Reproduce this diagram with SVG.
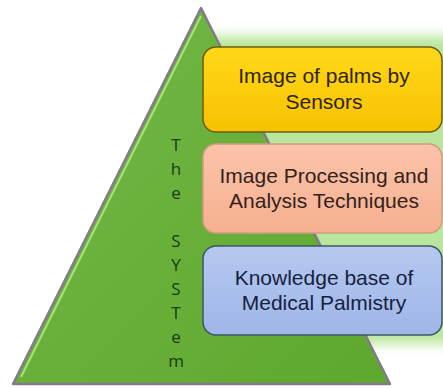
<svg xmlns="http://www.w3.org/2000/svg" width="443" height="389" viewBox="0 0 443 389">
<defs>
<style>
.lbl{font-family:"Liberation Sans",Arial,sans-serif;font-size:21px;text-anchor:middle}
.vt{font-family:"Open Sans","Liberation Sans",sans-serif;font-size:17px;text-anchor:middle;fill:#173d0e}
</style>
<filter id="glow" x="-20%" y="-20%" width="140%" height="140%"><feGaussianBlur stdDeviation="6"/></filter>
<linearGradient id="gy" x1="0" y1="0" x2="0" y2="1"><stop offset="0" stop-color="#ffd81a"/><stop offset="1" stop-color="#f7c200"/></linearGradient>
<linearGradient id="gs" x1="0" y1="0" x2="0" y2="1"><stop offset="0" stop-color="#fbc3aa"/><stop offset="1" stop-color="#f6b090"/></linearGradient>
<linearGradient id="gb" x1="0" y1="0" x2="0" y2="1"><stop offset="0" stop-color="#b5c8f0"/><stop offset="1" stop-color="#9fb6e8"/></linearGradient>
<linearGradient id="gt" x1="0" y1="0" x2="1" y2="1"><stop offset="0" stop-color="#74b848"/><stop offset="1" stop-color="#5ea82e"/></linearGradient>
</defs>
<rect x="198" y="36" width="262" height="308" rx="14" fill="#b8e69c" filter="url(#glow)"/>
<g id="pyramid">
<polygon points="201,8 13,384 390,384" fill="url(#gt)" stroke="#86788a" stroke-width="2.5" stroke-linejoin="round"/>
<line x1="201" y1="16" x2="21" y2="377" stroke="#a6e27a" stroke-width="2"/>
</g>
<g id="system-label" class="vt">
<text x="176" y="151">T</text>
<text x="176" y="175">h</text>
<text x="176" y="199">e</text>
<text x="176" y="247">S</text>
<text x="176" y="271">Y</text>
<text x="176" y="295">S</text>
<text x="176" y="319">T</text>
<text x="176" y="343">e</text>
<text x="176" y="367">m</text>
</g>
<g id="box1">
<rect x="203" y="47" width="239" height="85" rx="13" fill="url(#gy)" stroke="#6e5c12" stroke-width="1.5"/>
<text class="lbl" x="324" y="83" fill="#2e2406">Image of palms by</text>
<text class="lbl" x="324" y="109" fill="#2e2406">Sensors</text>
</g>
<g id="box2">
<rect x="203" y="144" width="239" height="89" rx="13" fill="url(#gs)" stroke="#d49a80" stroke-width="1.5"/>
<text class="lbl" x="324" y="183" fill="#33221a">Image Processing and</text>
<text class="lbl" x="324" y="208" fill="#33221a">Analysis Techniques</text>
</g>
<g id="box3">
<rect x="203" y="246" width="239" height="89" rx="13" fill="url(#gb)" stroke="#3e5565" stroke-width="1.5"/>
<text class="lbl" x="324" y="285" fill="#15223e">Knowledge base of</text>
<text class="lbl" x="324" y="310" fill="#15223e">Medical Palmistry</text>
</g>
<g id="connectors"/>
</svg>
